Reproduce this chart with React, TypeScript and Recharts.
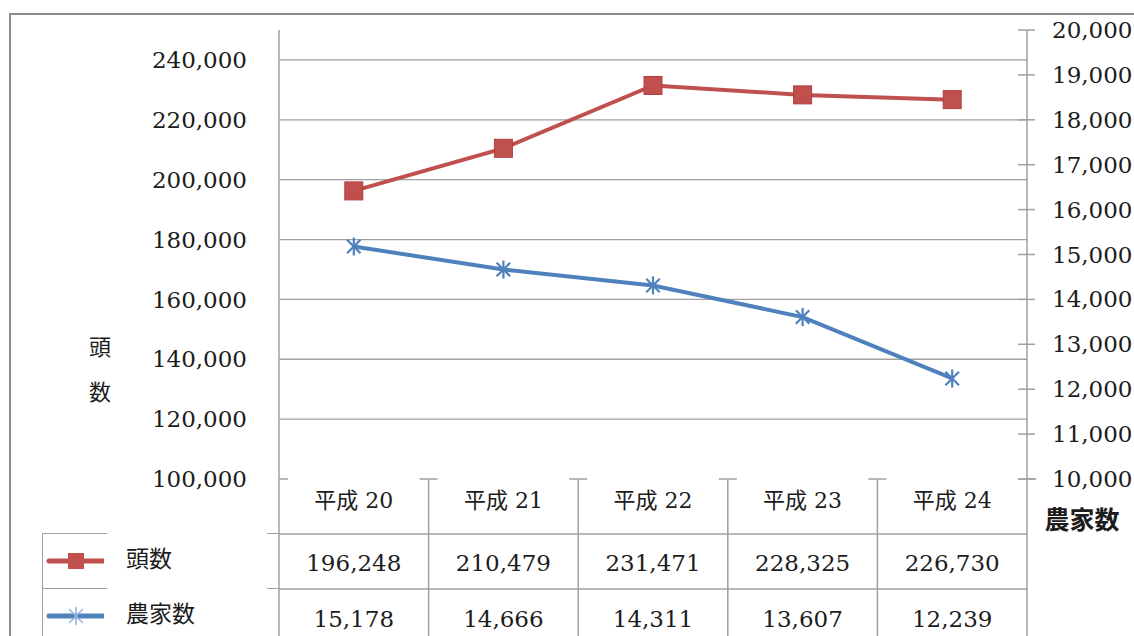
import React from 'react';
import { LineChart, Line, XAxis, YAxis, ReferenceLine, Legend } from 'recharts';

// 年度と各系列の値
const years = ['平成 20', '平成 21', '平成 22', '平成 23', '平成 24'];
const headCounts = [196248, 210479, 231471, 228325, 226730];
const farmCounts = [15178, 14666, 14311, 13607, 12239];
const headTicks = [100000, 120000, 140000, 160000, 180000, 200000, 220000, 240000];
const farmTicks = [10000, 11000, 12000, 13000, 14000, 15000, 16000, 17000, 18000, 19000, 20000];
const seriesNames = ['頭数', '農家数'];

const data = years.map((year, i) => ({ year, head: headCounts[i], farm: farmCounts[i] }));

const W = 1134;
const H = 636;
const PLOT_LEFT = 279;
const PLOT_RIGHT = 1027;
const PLOT_BOTTOM = 479;
const BAND = (PLOT_RIGHT - PLOT_LEFT) / years.length;
const ROW_H = 55;

const RED = '#C0504D';
const BLUE = '#4F81BD';
const GRID = '#a0a0a0';
const INK = '#1c1c1c';
const SERIF = '"DejaVu Serif", "Noto Sans CJK JP", serif';
const SANS = '"Noto Sans CJK JP", sans-serif';
const FS = 23;

const fmt = (v: number) => v.toLocaleString('en-US');

// x軸の目盛りの代わりにデータテーブルを描く
const TableTick = (props: any) => {
  const { x, y, payload } = props;
  const i = years.indexOf(payload.value);
  const left = x - BAND / 2;
  const right = x + BAND / 2;
  const textStyle = { fontFamily: SERIF, fontSize: FS, fill: INK };
  return (
    <g>
      <text x={x} y={y + 21} textAnchor="middle" dominantBaseline="central" style={{ ...textStyle, fontSize: 22 }}>
        {payload.value}
      </text>
      <text x={x} y={y + ROW_H + 29} textAnchor="middle" dominantBaseline="central" style={textStyle}>
        {fmt(headCounts[i])}
      </text>
      <text x={x} y={y + ROW_H * 2 + 30} textAnchor="middle" dominantBaseline="central" style={textStyle}>
        {fmt(farmCounts[i])}
      </text>
      <line x1={left} x2={right} y1={y + ROW_H} y2={y + ROW_H} stroke={GRID} strokeWidth={1.5} />
      <line x1={left} x2={right} y1={y + ROW_H * 2} y2={y + ROW_H * 2} stroke={GRID} strokeWidth={1.5} />
      <line x1={right} x2={right} y1={y} y2={H} stroke={GRID} strokeWidth={1.5} />
      <line x1={right - 9} x2={right + 9} y1={y} y2={y} stroke={GRID} strokeWidth={1.5} />
      {i === 0 && (
        <>
          <line x1={left} x2={left} y1={y} y2={H} stroke={GRID} strokeWidth={1.5} />
          <line x1={left} x2={left + 9} y1={y} y2={y} stroke={GRID} strokeWidth={1.5} />
        </>
      )}
    </g>
  );
};

const FarmTick = (props: any) => {
  const { x, y, payload } = props;
  return (
    <g>
      <line x1={x - 9} x2={x + 8} y1={y} y2={y} stroke={GRID} strokeWidth={1.5} />
      <text x={x + 25} y={y} dominantBaseline="central" style={{ fontFamily: SERIF, fontSize: FS, fill: INK }}>
        {fmt(payload.value)}
      </text>
    </g>
  );
};

const SquareDot = (props: any) => {
  const { cx, cy, index } = props;
  return <rect key={`sq-${index}`} x={cx - 9} y={cy - 9} width={18} height={18} fill={RED} stroke="#B0403C" strokeWidth={1} />;
};

const StarDot = (props: any) => {
  const { cx, cy, index } = props;
  const r = 9;
  const d = r * 0.75;
  return (
    <g key={`st-${index}`} stroke={BLUE} strokeWidth={2.2}>
      <line x1={cx} x2={cx} y1={cy - r} y2={cy + r} />
      <line x1={cx - d} x2={cx + d} y1={cy - d} y2={cy + d} />
      <line x1={cx - d} x2={cx + d} y1={cy + d} y2={cy - d} />
    </g>
  );
};

const LegendKey = ({ name, color }: { name: string; color: string }) => (
  <svg width={60} height={20} style={{ display: 'block' }}>
    <line x1={5} x2={60} y1={10} y2={10} stroke={color} strokeWidth={5} strokeLinecap="round" />
    {name === seriesNames[0] ? (
      <rect x={24} y={2} width={16} height={16} fill={color} />
    ) : (
      <g stroke="#8fb1dc" strokeWidth={1.5}>
        <line x1={32} x2={32} y1={1} y2={19} />
        <line x1={25} x2={39} y1={3} y2={17} />
        <line x1={25} x2={39} y1={17} y2={3} />
      </g>
    )}
  </svg>
);

const LegendTable = (props: any) => {
  const items = [...(props.payload || [])].sort(
    (a: any, b: any) => seriesNames.indexOf(a.value) - seriesNames.indexOf(b.value)
  );
  return (
    <div style={{ position: 'relative', width: 237, height: 103, borderLeft: `1.5px solid ${GRID}` }}>
      {items.map((p: any, i: number) => (
        <div
          key={p.value}
          style={{
            position: 'absolute',
            left: 0,
            top: i * ROW_H,
            width: 237,
            height: ROW_H,
            borderTop: `1.5px solid ${GRID}`,
          }}
        >
          <div style={{ position: 'absolute', left: 1, top: 17 }}>
            <LegendKey name={p.value} color={p.color} />
          </div>
          <div
            style={{
              position: 'absolute',
              left: 64,
              top: -8,
              width: 160,
              height: ROW_H + 8,
              background: '#fff',
              fontFamily: SANS,
              fontSize: 23,
              color: INK,
              lineHeight: `${ROW_H + 8}px`,
              paddingLeft: 19,
              boxSizing: 'border-box',
            }}
          >
            {p.value}
          </div>
        </div>
      ))}
    </div>
  );
};

const HeadTitle = () => (
  <g style={{ fontFamily: SANS, fontSize: 22, fill: INK }}>
    <text x={100} y={345} textAnchor="middle" dominantBaseline="central">頭</text>
    <text x={100} y={390} textAnchor="middle" dominantBaseline="central">数</text>
  </g>
);

const FarmTitle = () => (
  <text
    x={1082}
    y={518}
    textAnchor="middle"
    dominantBaseline="central"
    style={{ fontFamily: SANS, fontSize: 25, fontWeight: 700, fill: INK }}
  >
    農家数
  </text>
);

export default function App() {
  return (
    <div style={{ position: 'fixed', left: 0, top: 0, width: W, height: H, overflow: 'hidden', background: '#fff' }}>
      <div
        style={{
          position: 'absolute',
          left: 9,
          top: 13,
          width: 1300,
          height: 800,
          border: '2.5px solid #8c8c8c',
        }}
      />
      <div style={{ position: 'absolute', left: 0, top: 0 }}>
        <LineChart width={W} height={H} data={data} margin={{ top: 30, right: 0, bottom: 0, left: 0 }}>
          <XAxis
            dataKey="year"
            scale="point"
            padding={{ left: BAND / 2, right: BAND / 2 }}
            height={H - PLOT_BOTTOM}
            axisLine={false}
            tickLine={false}
            tickSize={0}
            tickMargin={0}
            interval={0}
            tick={<TableTick />}
          />
          <YAxis
            yAxisId="head"
            orientation="left"
            width={PLOT_LEFT}
            domain={[100000, 250000]}
            ticks={headTicks}
            interval={0}
            axisLine={{ stroke: GRID, strokeWidth: 1.5 }}
            tickLine={false}
            tickSize={0}
            tickMargin={32}
            tickFormatter={fmt}
            tick={{ fontFamily: SERIF, fontSize: FS, fill: INK }}
            label={<HeadTitle />}
          />
          <YAxis
            yAxisId="farm"
            orientation="right"
            width={W - PLOT_RIGHT}
            domain={[10000, 20000]}
            ticks={farmTicks}
            interval={0}
            axisLine={{ stroke: GRID, strokeWidth: 1.5 }}
            tickLine={false}
            tickSize={0}
            tickMargin={0}
            tick={<FarmTick />}
            label={<FarmTitle />}
          />
          {headTicks
            .filter((v) => v > 100000)
            .map((v) => (
              <ReferenceLine key={v} yAxisId="head" y={v} stroke={GRID} strokeWidth={1.3} />
            ))}
          <Line
            yAxisId="head"
            dataKey="head"
            name={seriesNames[0]}
            stroke={RED}
            strokeWidth={4}
            dot={<SquareDot />}
            activeDot={false}
            isAnimationActive={false}
          />
          <Line
            yAxisId="farm"
            dataKey="farm"
            name={seriesNames[1]}
            stroke={BLUE}
            strokeWidth={4}
            dot={<StarDot />}
            activeDot={false}
            isAnimationActive={false}
          />
          <Legend
            layout="horizontal"
            verticalAlign="middle"
            align="center"
            content={<LegendTable />}
            wrapperStyle={{ position: 'absolute', left: 42, top: 533, width: 237, height: 103, bottom: 'auto' }}
          />
        </LineChart>
      </div>
    </div>
  );
}
